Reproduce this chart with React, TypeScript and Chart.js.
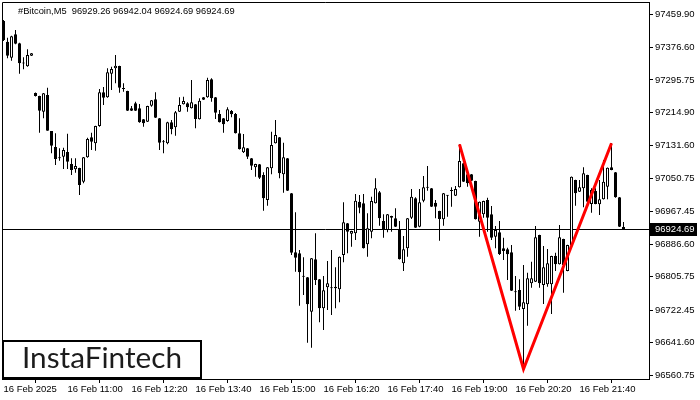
import React, { useEffect, useRef } from 'react';
import { Chart, registerables } from 'chart.js';

Chart.register(...registerables);

const openP = [
  97442.5, 97390.9, 97351.1, 97409.4, 97387.0, 97337.1, 97329.7, 97356.1, 97263.2, 97255.7,
  97216.6, 97258.2, 97168.5, 97128.7, 97100.5, 97104.5, 97116.2, 97086.3, 97073.1, 97076.4,
  97042.2, 97103.0, 97152.8, 97137.9, 97181.0, 97264.9, 97252.5, 97311.2, 97324.7, 97330.4,
  97273.1, 97268.1, 97225.1, 97237.5, 97225.1, 97197.7, 97191.7, 97231.5, 97247.5, 97200.2,
  97140.4, 97137.9, 97190.2, 97177.7, 97216.6, 97235.0, 97237.5, 97225.1, 97235.0, 97197.7,
  97252.5, 97252.5, 97297.3, 97252.5, 97210.9, 97200.2, 97193.4, 97218.3, 97210.9, 97162.8,
  97115.5, 97125.4, 97100.5, 97078.1, 97085.6, 97058.9, 96996.7, 97075.6, 97137.9, 97152.8,
  97060.7, 97100.5, 97013.3, 96866.4, 96863.9, 96805.6, 96804.1, 96718.4, 96849.0, 96799.1,
  96726.9, 96779.2, 96776.7, 96776.7, 96774.2, 96859.7, 96938.6, 96912.7, 96913.7, 96992.4,
  96988.4, 96886.3, 96917.7, 96988.4, 97015.8, 96944.4, 96921.9, 96956.8, 96951.1, 96923.7,
  96839.0, 96876.4, 96952.6, 97000.9, 96930.2, 96994.9, 97027.3, 97025.8, 96989.9, 96969.3,
  96948.6, 97007.4, 97019.1, 97007.4, 97028.3, 97088.1, 97060.7, 97060.7, 97044.0, 96942.6,
  96961.0, 96996.7, 96961.0, 96905.2, 96916.2, 96876.4, 96873.9, 96866.4, 96766.8, 96772.5,
  96725.2, 96736.9, 96789.2, 96793.2, 96909.5, 96785.0, 96786.7, 96786.7, 96857.9, 96836.5,
  96899.5, 96819.8, 96884.6, 97046.5, 97017.3, 97025.8, 97058.9, 96986.7, 97019.1, 96985.9,
  96998.4, 97029.8, 97078.1, 97065.7, 97003.4, 96929.26,
];

const highP = [
  97445.0, 97400.9, 97405.9, 97420.1, 97388.0, 97352.1, 97372.0, 97362.8, 97264.4, 97256.0,
  97263.0, 97276.4, 97168.8, 97162.8, 97125.4, 97126.9, 97161.8, 97100.5, 97100.5, 97076.8,
  97103.5, 97151.8, 97164.3, 97181.5, 97273.1, 97278.1, 97324.7, 97328.7, 97357.8, 97331.0,
  97287.3, 97268.5, 97230.8, 97241.5, 97235.8, 97198.4, 97231.5, 97245.7, 97264.9, 97200.9,
  97146.1, 97191.7, 97195.9, 97218.3, 97252.5, 97253.9, 97240.0, 97295.5, 97235.8, 97250.0,
  97253.2, 97301.3, 97299.8, 97253.2, 97220.8, 97200.9, 97227.5, 97220.8, 97213.4, 97200.2,
  97161.0, 97126.2, 97101.3, 97087.0, 97086.3, 97065.7, 97078.8, 97166.8, 97195.9, 97153.6,
  97139.4, 97101.3, 97014.1, 96966.0, 96872.1, 96853.9, 96804.9, 96852.2, 96913.7, 96799.9,
  96807.4, 96844.7, 96872.1, 96829.0, 96856.0, 96990.9, 96939.4, 96920.2, 97011.6, 97009.1,
  97011.6, 96963.5, 97004.9, 97050.7, 97019.1, 96961.0, 96961.8, 96957.5, 96976.0, 96944.4,
  96907.0, 96951.8, 97024.1, 97003.4, 97024.1, 97056.4, 97081.3, 97026.6, 96996.7, 96970.0,
  97014.1, 97009.1, 97028.3, 97031.5, 97135.4, 97088.8, 97061.4, 97061.4, 97044.7, 96993.0,
  96994.9, 97002.4, 96981.7, 96931.9, 96944.4, 96902.8, 96877.9, 96884.6, 96807.4, 96799.1,
  96834.8, 96815.6, 96843.0, 96931.9, 96910.3, 96882.1, 96874.6, 96858.0, 96865.4, 96934.4,
  96900.3, 96885.3, 97055.2, 97047.3, 97046.5, 97078.1, 97059.7, 97025.8, 97025.8, 97046.5,
  97096.3, 97077.6, 97137.9, 97066.4, 97004.1, 96942.04,
];

const lowP = [
  97392.7, 97349.6, 97343.6, 97384.5, 97311.2, 97322.2, 97328.7, 97355.3, 97254.5, 97164.3,
  97200.2, 97169.0, 97113.0, 97083.8, 97094.5, 97073.9, 97073.9, 97058.9, 97064.7, 97009.1,
  97038.3, 97102.0, 97121.2, 97119.4, 97179.2, 97233.3, 97251.5, 97270.6, 97287.3, 97263.9,
  97266.4, 97218.3, 97218.3, 97218.3, 97189.2, 97179.2, 97190.9, 97229.0, 97200.9, 97121.2,
  97113.0, 97135.4, 97160.3, 97156.8, 97215.9, 97234.5, 97216.6, 97224.6, 97175.2, 97197.2,
  97245.7, 97251.5, 97241.5, 97198.4, 97189.7, 97164.3, 97191.7, 97202.6, 97162.3, 97122.4,
  97113.7, 97098.8, 97071.4, 97054.7, 97049.0, 96970.0, 96982.5, 97060.7, 97137.4, 97050.7,
  97014.8, 97019.1, 96859.7, 96818.1, 96733.4, 96760.0, 96641.2, 96628.8, 96785.0, 96692.0,
  96672.9, 96722.7, 96710.2, 96726.9, 96741.9, 96841.5, 96863.9, 96880.3, 96897.0, 96963.5,
  96875.9, 96855.4, 96901.3, 96987.9, 96932.6, 96902.8, 96916.2, 96917.7, 96929.4, 96848.5,
  96819.8, 96855.4, 96949.3, 96926.9, 96928.7, 96990.9, 97019.8, 96979.2, 96951.1, 96895.3,
  96932.6, 96955.1, 96980.0, 97006.6, 97027.8, 97041.5, 97029.8, 97044.0, 96948.1, 96905.2,
  96952.6, 96917.7, 96897.0, 96876.4, 96859.7, 96847.2, 96797.4, 96770.0, 96720.9, 96722.7,
  96575.7, 96683.6, 96778.2, 96792.4, 96778.2, 96737.6, 96780.7, 96712.7, 96819.8, 96836.0,
  96765.8, 96819.0, 96878.8, 96982.5, 97016.6, 96978.5, 96991.7, 96965.0, 96986.0, 96959.3,
  96997.9, 96998.4, 97070.6, 97002.4, 96929.4, 96924.69,
];

const closeP = [
  97395.2, 97356.1, 97404.4, 97386.0, 97337.1, 97336.6, 97357.8, 97362.0, 97255.7, 97219.1,
  97262.4, 97169.3, 97131.9, 97098.8, 97100.5, 97121.2, 97092.1, 97071.4, 97081.3, 97034.0,
  97103.0, 97148.6, 97141.9, 97181.0, 97264.9, 97251.5, 97314.7, 97322.9, 97331.2, 97276.4,
  97273.1, 97219.1, 97219.1, 97219.1, 97190.2, 97187.7, 97230.8, 97245.0, 97201.6, 97139.4,
  97140.4, 97190.2, 97172.8, 97215.1, 97233.3, 97243.2, 97227.5, 97240.0, 97198.4, 97244.0,
  97246.5, 97295.5, 97250.0, 97214.1, 97190.2, 97185.2, 97222.6, 97210.1, 97162.8, 97122.9,
  97127.9, 97104.5, 97082.1, 97086.3, 97052.2, 97000.9, 97078.1, 97133.6, 97158.6, 97063.2,
  97103.0, 97019.8, 96865.4, 96852.9, 96816.6, 96805.6, 96736.9, 96851.4, 96797.4, 96726.9,
  96771.7, 96789.2, 96776.7, 96780.7, 96855.4, 96941.1, 96917.7, 96919.4, 96994.9, 96977.5,
  96876.4, 96926.2, 96994.2, 97025.8, 96951.1, 96923.7, 96961.0, 96952.6, 96930.2, 96849.0,
  96873.9, 96951.1, 97004.9, 96927.7, 96990.9, 97028.3, 97027.3, 96980.0, 96980.0, 96949.3,
  97013.3, 97007.4, 97019.1, 97024.1, 97093.8, 97042.2, 97038.3, 97044.7, 96948.6, 96992.4,
  96994.2, 96952.6, 96902.8, 96921.9, 96862.2, 96869.6, 96861.4, 96770.8, 96766.8, 96730.9,
  96741.9, 96801.6, 96801.6, 96903.8, 96789.2, 96829.0, 96839.0, 96857.2, 96836.5, 96903.8,
  96834.8, 96884.6, 97054.7, 97013.3, 97028.3, 97063.2, 96992.4, 97021.6, 96986.7, 96998.4,
  97042.2, 97077.1, 97071.4, 97003.4, 96930.2, 96924.69,
];

const priceTicks = [
  97459.9, 97376.6, 97295.75, 97214.9, 97131.6, 97050.75,
  96967.45, 96886.6, 96805.75, 96722.45, 96641.6, 96560.75,
];

const timeTickIdx = [0, 16, 32, 48, 64, 80, 96, 112, 128, 144];
const timeLabels = [
  '16 Feb 2025', '16 Feb 11:00', '16 Feb 12:20', '16 Feb 13:40', '16 Feb 15:00',
  '16 Feb 16:20', '16 Feb 17:40', '16 Feb 19:00', '16 Feb 20:20', '16 Feb 21:40',
];

const patternIdx = [114, 130, 152];
const patternPrice = [97135.4, 96575.7, 97137.9];

const lastPrice = 96924.69;
const headerText = '#Bitcoin,M5  96929.26 96942.04 96924.69 96924.69';
const logoText = 'InstaFintech';

const FONT = 'Liberation Sans';

export default function App() {
  const ref = useRef<HTMLCanvasElement>(null);

  useEffect(() => {
    const idx = openP.map((_, i) => i);
    const bodies = idx.map((i) => ({ x: i, y: [openP[i], closeP[i]] }));
    const wicks = idx.map((i) => ({ x: i, y: [lowP[i], highP[i]] }));
    const pattern = patternIdx.map((x, k) => ({ x, y: patternPrice[k] }));
    const tickFont = { family: FONT, size: 9.5 };

    const overlay = {
      id: 'overlay',
      beforeDatasetsDraw(chart: any) {
        const { ctx, chartArea } = chart;
        const y = Math.round(chart.scales.y.getPixelForValue(lastPrice)) + 0.5;
        ctx.save();
        ctx.strokeStyle = '#000';
        ctx.lineWidth = 1;
        ctx.beginPath();
        ctx.moveTo(chartArea.left, y);
        ctx.lineTo(chartArea.right, y);
        ctx.stroke();
        ctx.restore();
      },
      afterDraw(chart: any) {
        const { ctx, chartArea } = chart;
        ctx.save();
        // frame
        ctx.strokeStyle = '#000';
        ctx.lineWidth = 1;
        ctx.beginPath();
        ctx.moveTo(chartArea.left + 0.5, chartArea.bottom);
        ctx.lineTo(chartArea.left + 0.5, chartArea.top + 0.5);
        ctx.lineTo(chartArea.right, chartArea.top + 0.5);
        ctx.stroke();
        // header
        ctx.fillStyle = '#000';
        ctx.font = `9.3px ${FONT}`;
        ctx.textBaseline = 'alphabetic';
        ctx.textAlign = 'left';
        ctx.fillText(headerText, 18, 14);
        // current price box
        const y = Math.round(chart.scales.y.getPixelForValue(lastPrice));
        ctx.fillStyle = '#000';
        ctx.fillRect(chartArea.right + 1, y - 6, 47, 13);
        ctx.fillStyle = '#fff';
        ctx.font = `9.5px ${FONT}`;
        ctx.textBaseline = 'middle';
        ctx.fillText(lastPrice.toFixed(2), chartArea.right + 6, y + 0.5);
        // logo
        ctx.fillStyle = '#fff';
        ctx.fillRect(3, 341, 198, 37);
        ctx.strokeStyle = '#000';
        ctx.lineWidth = 2;
        ctx.strokeRect(3, 341, 198, 37);
        ctx.fillStyle = '#1c1c1c';
        ctx.font = `27px Lato`;
        const w = ctx.measureText(logoText).width;
        const size = 27 * (160 / w);
        ctx.font = `${size.toFixed(2)}px Lato`;
        ctx.textBaseline = 'alphabetic';
        ctx.fillText(logoText, 22, 368);
        ctx.restore();
      },
    };

    const chart = new Chart(ref.current as HTMLCanvasElement, {
      type: 'bar',
      data: {
        datasets: [
          {
            type: 'line',
            data: pattern,
            borderColor: '#ff0000',
            borderWidth: 3,
            pointRadius: 0,
            tension: 0,
            order: 0,
          } as any,
          {
            type: 'bar',
            data: bodies,
            order: 1,
            barThickness: 3,
            grouped: false,
            backgroundColor: (c: any) =>
              closeP[c.dataIndex] > openP[c.dataIndex] ? '#ffffff' : '#000000',
            borderColor: '#000000',
            borderWidth: 1,
            borderSkipped: false,
            minBarLength: 1,
            inflateAmount: 0,
          } as any,
          {
            type: 'bar',
            data: wicks,
            order: 2,
            barThickness: 1,
            grouped: false,
            backgroundColor: '#000000',
            borderWidth: 0,
            minBarLength: 1,
            inflateAmount: 0,
          } as any,
        ],
      },
      options: {
        responsive: false,
        animation: false,
        devicePixelRatio: 1,
        layout: { padding: { left: 2, top: 2, right: 0, bottom: 0 } },
        plugins: { legend: { display: false }, tooltip: { enabled: false }, title: { display: false } },
        scales: {
          x: {
            type: 'linear',
            position: 'bottom',
            min: -0.375,
            max: 161.375,
            offset: false,
            afterBuildTicks: (s: any) => {
              s.ticks = timeTickIdx.map((v) => ({ value: v }));
            },
            afterFit: (s: any) => {
              s.height = 21;
              s.paddingLeft = 0;
              s.paddingRight = 0;
            },
            ticks: {
              autoSkip: false,
              maxRotation: 0,
              minRotation: 0,
              align: 'start',
              padding: 1,
              color: '#000',
              font: tickFont,
              callback: (v: any) => {
                const k = timeTickIdx.indexOf(Number(v));
                return k >= 0 ? timeLabels[k] : '';
              },
            },
            grid: { display: true, drawOnChartArea: false, drawTicks: true, tickLength: 4, color: '#000' },
            border: { display: true, color: '#000' },
          },
          y: {
            type: 'linear',
            position: 'right',
            min: 96550.8,
            max: 97489.8,
            afterBuildTicks: (s: any) => {
              s.ticks = priceTicks.map((v) => ({ value: v }));
            },
            afterFit: (s: any) => {
              s.width = 51;
              s.paddingTop = 0;
              s.paddingBottom = 0;
            },
            ticks: {
              padding: 2,
              color: '#000',
              font: tickFont,
              callback: (v: any) => Number(v).toFixed(2),
            },
            grid: { display: true, drawOnChartArea: false, drawTicks: true, tickLength: 4, color: '#000' },
            border: { display: true, color: '#000' },
          },
        },
      } as any,
      plugins: [overlay],
    });

    return () => chart.destroy();
  }, []);

  return (
    <div style={{ position: 'absolute', left: 0, top: 0, width: 700, height: 400, background: '#fff' }}>
      <canvas ref={ref} width={700} height={400} style={{ width: 700, height: 400, display: 'block' }} />
    </div>
  );
}
